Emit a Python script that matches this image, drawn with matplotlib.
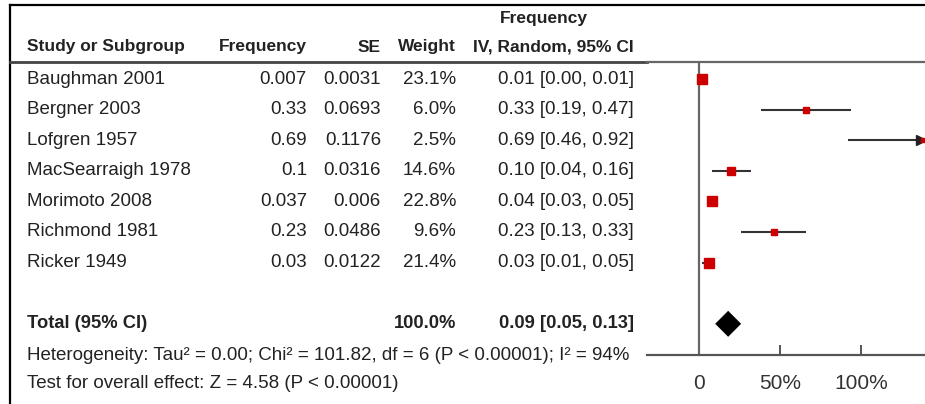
import matplotlib
matplotlib.use("Agg")
import matplotlib.pyplot as plt

# data
studies = ["Baughman 2001", "Bergner 2003", "Lofgren 1957", "MacSearraigh 1978",
           "Morimoto 2008", "Richmond 1981", "Ricker 1949"]
freq_txt = ["0.007", "0.33", "0.69", "0.1", "0.037", "0.23", "0.03"]
se_txt = ["0.0031", "0.0693", "0.1176", "0.0316", "0.006", "0.0486", "0.0122"]
weights = [23.1, 6.0, 2.5, 14.6, 22.8, 9.6, 21.4]
est = [0.01, 0.33, 0.69, 0.10, 0.04, 0.23, 0.03]
lo = [0.00, 0.19, 0.46, 0.04, 0.03, 0.13, 0.01]
hi = [0.01, 0.47, 0.92, 0.16, 0.05, 0.33, 0.05]
total_est, total_lo, total_hi = 0.09, 0.05, 0.13
tick_vals = [0, 0.25, 0.5]
tick_labels = ["0", "50%", "100%"]

plt.rcParams['font.family'] = ['Liberation Sans', 'DejaVu Sans']

W, H = 925, 404
fig = plt.figure(figsize=(W / 100, H / 100), dpi=100)

# background axes in pixel units for the table part
bg = fig.add_axes([0, 0, 1, 1])
bg.set_xlim(0, W)
bg.set_ylim(H, 0)
bg.axis("off")

# frame lines
bg.plot([10, 10], [5, H], color="black", lw=1.6)
bg.plot([10, W], [5, 5], color="black", lw=1.6)
bg.plot([10, 647], [62, 62], color="#444444", lw=2.0)

row_y = [79 + 30.6 * i for i in range(len(studies))]
total_y = 79 + 30.6 * 8
fs = 13.5
hfs = 12.5
col = "#222222"

# headers
hdr = dict(fontsize=hfs, fontweight="bold", color=col, va="center")
bg.text(544, 18, "Frequency", ha="center", **hdr)
bg.text(27, 47, "Study or Subgroup", ha="left", **hdr)
bg.text(307, 47, "Frequency", ha="right", **hdr)
bg.text(381, 47, "SE", ha="right", **hdr)
bg.text(456, 47, "Weight", ha="right", **hdr)
bg.text(634, 47, "IV, Random, 95% CI", ha="right", **hdr)

# study rows
for i, name in enumerate(studies):
    y = row_y[i]
    bg.text(27, y, name, ha="left", va="center", fontsize=fs, color=col)
    bg.text(307, y, freq_txt[i], ha="right", va="center", fontsize=fs, color=col)
    bg.text(381, y, se_txt[i], ha="right", va="center", fontsize=fs, color=col)
    bg.text(456, y, f"{weights[i]:.1f}%", ha="right", va="center", fontsize=fs, color=col)
    bg.text(634, y, f"{est[i]:.2f} [{lo[i]:.2f}, {hi[i]:.2f}]", ha="right",
            va="center", fontsize=fs, color=col)

# total row
tfs = 13.2
bg.text(27, total_y, "Total (95% CI)", ha="left", va="center", fontsize=tfs,
        fontweight="bold", color=col)
bg.text(456, total_y, f"{sum(weights):.1f}%", ha="right", va="center", fontsize=tfs,
        fontweight="bold", color=col)
bg.text(634, total_y, f"{total_est:.2f} [{total_lo:.2f}, {total_hi:.2f}]", ha="right",
        va="center", fontsize=tfs, fontweight="bold", color=col)
bg.text(27, 355, "Heterogeneity: Tau² = 0.00; Chi² = 101.82, df = 6 (P < 0.00001); I² = 94%",
        ha="left", va="center", fontsize=fs, color=col)
bg.text(27, 383, "Test for overall effect: Z = 4.58 (P < 0.00001)",
        ha="left", va="center", fontsize=fs, color=col)

# forest panel
x0_px, x1_px = 647, W
y_top, y_bot = 62, 355
ax = fig.add_axes([x0_px / W, 1 - y_bot / H, (x1_px - x0_px) / W, (y_bot - y_top) / H])
scale = 324.0
xmin, xmax = (x0_px - 699) / scale, (x1_px - 699) / scale
ax.set_xlim(xmin, xmax)
ax.set_ylim(y_bot, y_top)
ax.patch.set_alpha(0)
for s in ["left", "right"]:
    ax.spines[s].set_visible(False)
ax.spines["top"].set_color("#666666")
ax.spines["top"].set_linewidth(1.6)
ax.spines["bottom"].set_color("#555555")
ax.spines["bottom"].set_linewidth(1.6)
ax.axvline(0, color="#666666", lw=1.6)

for i in range(len(studies)):
    y = row_y[i]
    right = min(hi[i], xmax)
    ax.plot([lo[i], right], [y, y], color="#333333", lw=1.5, solid_capstyle="butt")
    if hi[i] > xmax:
        ax.plot(xmax - 0.012, y, marker=">", color="#222222", ms=7, clip_on=False)
    ax.plot(est[i], y, marker="s", color="#cc0000", ms=1.55 * weights[i] ** 0.5,
            mec="#cc0000", clip_on=True)

h = 13
ax.fill([total_lo, total_est, total_hi, total_est],
        [total_y, total_y - h, total_y, total_y + h], color="black", lw=0)

ax.set_yticks([])
ax.set_xticks(tick_vals)
ax.set_xticklabels(tick_labels, fontsize=15, color="#333333")
ax.tick_params(axis="x", direction="in", length=7, width=1.4, color="#555555", pad=14)

fig.savefig("out.png", dpi=100)
